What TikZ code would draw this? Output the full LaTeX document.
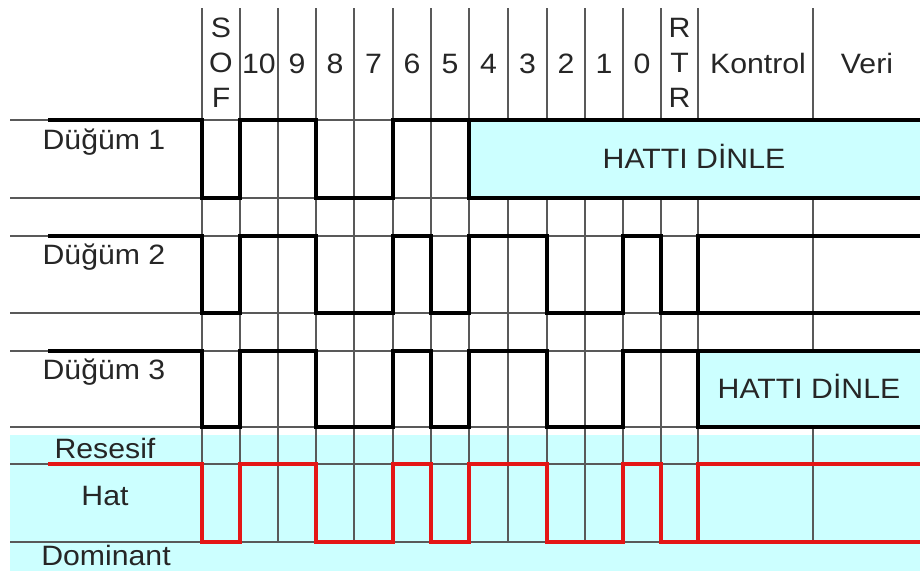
\documentclass[tikz,border=0pt]{standalone}
\usepackage{fontspec}
\setmainfont{Liberation Sans}[FakeStretch=1.08]
\definecolor{hatcyan}{RGB}{204,255,255}
\definecolor{hatred}{RGB}{228,22,22}
\begin{document}
\begin{tikzpicture}[x=1pt, y=-1pt, font=\fontsize{28}{35}\selectfont,
  grd/.style={black!65, line width=1.4pt},
  sig/.style={black, line width=4pt, line join=miter},
  bus/.style={hatred, line width=4pt, line join=miter},
  txt/.style={inner sep=0pt, anchor=base, text=black!85}]
\useasboundingbox (0,0) rectangle (920,571);
% Hat bölgesi
\fill[hatcyan] (10,435) rectangle (920,571);
% Izgara
\foreach \x in {202,240,278,316,354,393,431,469,508,547,585,623,661,698,813}{\draw[grd] (\x,8) -- (\x,542);}
\foreach \y in {120,198,236,313,351,427,464,542}{\draw[grd] (10,\y) -- (920,\y);}
% Başlık
\node[txt, anchor=center, align=center] (sof) at (221,62.5) {S\\O\\F};
\foreach \x/\t in {259/10,297/9,335/8,373.5/7,412/6,450/5,488.5/4,527.5/3,566/2,604/1,642/0}{\node[txt] (b\t) at (\x,73) {\t};}
\node[txt, anchor=center, align=center] (rtr) at (679.5,62.5) {R\\T\\R};
\node[txt] (kontrol) at (758,73) {Kontrol};
\node[txt] (veri) at (867,73) {Veri};
% Düğüm 1
\fill[hatcyan] (469,120) rectangle (920,198);
\draw[sig] (48,120) -- (202,120) -- (202,198) -- (240,198) -- (240,120) -- (316,120) -- (316,198) -- (393,198) -- (393,120) -- (469,120) -- (920,120);
\draw[sig] (469,120) -- (469,198) -- (920,198);
\node[txt] (d1) at (104,149) {Düğüm 1};
\node[txt] (dinle1) at (694,168) {HATTI DİNLE};
% Düğüm 2
\draw[sig] (48,236) -- (202,236) -- (202,313) -- (240,313) -- (240,236) -- (316,236) -- (316,313) -- (393,313) -- (393,236) -- (431,236) -- (431,313) -- (469,313) -- (469,236) -- (547,236) -- (547,313) -- (623,313) -- (623,236) -- (661,236) -- (661,313) -- (920,313);
\draw[sig] (698,313) -- (698,236) -- (920,236);
\node[txt] (d2) at (104,264) {Düğüm 2};
% Düğüm 3
\fill[hatcyan] (698,351) rectangle (920,427);
\draw[sig] (48,351) -- (202,351) -- (202,427) -- (240,427) -- (240,351) -- (316,351) -- (316,427) -- (393,427) -- (393,351) -- (431,351) -- (431,427) -- (469,427) -- (469,351) -- (547,351) -- (547,427) -- (623,427) -- (623,351) -- (920,351);
\draw[sig] (698,351) -- (698,427) -- (920,427);
\node[txt] (d3) at (104,379) {Düğüm 3};
\node[txt] (dinle2) at (809,398) {HATTI DİNLE};
% Hat
\draw[bus] (48,464) -- (202,464) -- (202,542) -- (240,542) -- (240,464) -- (316,464) -- (316,542) -- (393,542) -- (393,464) -- (431,464) -- (431,542) -- (469,542) -- (469,464) -- (547,464) -- (547,542) -- (623,542) -- (623,464) -- (661,464) -- (661,542) -- (920,542);
\draw[bus] (698,542) -- (698,464) -- (920,464);
\node[txt] (resesif) at (105,458) {Resesif};
\node[txt] (hat) at (105,505) {Hat};
\node[txt] (dominant) at (106,565) {Dominant};
\end{tikzpicture}
\end{document}
